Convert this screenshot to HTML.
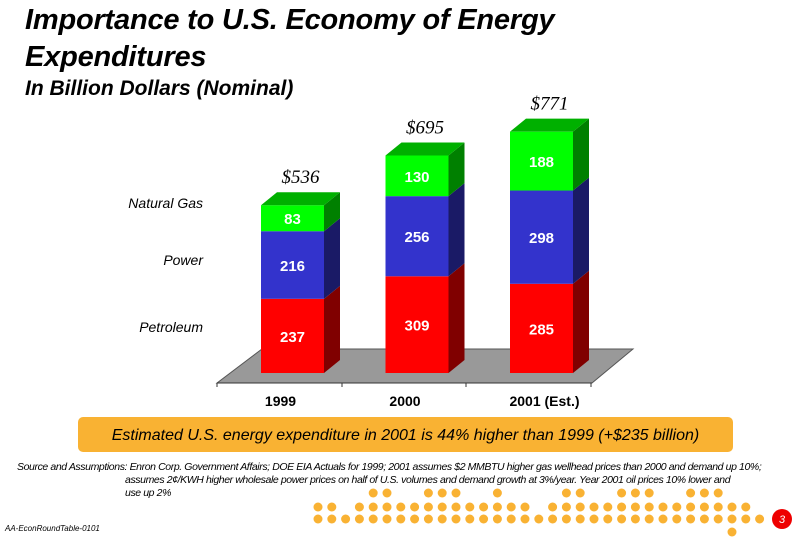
<!DOCTYPE html>
<html><head><meta charset="utf-8"><style>
body{margin:0;background:#fff;}
#root{position:relative;width:810px;height:540px;overflow:hidden;font-family:"Liberation Sans",sans-serif;}
.t{position:absolute;white-space:nowrap;}
</style></head><body>
<div id="root">
<div class="t" style="left:25px;top:2px;font-size:29px;font-weight:bold;font-style:italic;line-height:37px;letter-spacing:-0.2px;">Importance to U.S. Economy of Energy<br>Expenditures</div>
<div class="t" style="left:25px;top:77px;font-size:21px;font-weight:bold;font-style:italic;">In Billion Dollars (Nominal)</div>
<svg id="chart" width="810" height="540" style="position:absolute;left:0;top:0" xmlns="http://www.w3.org/2000/svg"></svg>
<div class="t" style="left:78px;top:417px;width:655px;height:35px;background:#f9b233;border-radius:5px;font-size:16px;font-style:italic;line-height:37px;text-align:center;">Estimated U.S. energy expenditure in 2001 is 44% higher than 1999 (+$235 billion)</div>
<div class="t" style="left:17px;top:461px;font-size:10.5px;font-style:italic;line-height:13px;letter-spacing:-0.4px;">Source and Assumptions: Enron Corp. Government Affairs; DOE EIA Actuals for 1999; 2001 assumes $2 MMBTU higher gas wellhead prices than 2000 and demand up 10%;<br><span style="padding-left:108px">assumes 2¢/KWH higher wholesale power prices on half of U.S. volumes and demand growth at 3%/year. Year 2001 oil prices 10% lower and</span><br><span style="padding-left:108px">use up 2%</span></div>
<div class="t" style="left:5px;top:524px;font-size:8px;font-style:italic;">AA-EconRoundTable-0101</div>
</div>
<script>
const categories=["1999","2000","2001 (Est.)"];
const petroleum=[237,309,285];
const power=[216,256,298];
const gas=[83,130,188];
const totalLabels=["$536","$695","$771"];
const legendNames=["Natural Gas","Power","Petroleum"];
const NS="http://www.w3.org/2000/svg";
const svg=document.getElementById('chart');
function mk(tag,at,parent){const e=document.createElementNS(NS,tag);for(const k in at)e.setAttribute(k,at[k]);(parent||svg).appendChild(e);return e;}
const base=373,scale=0.313,bw=63,dx=16,dy=13;
const x0=261,step=124.5;
function xPos(i){return x0+i*step;}
function yPos(v){return base-v*scale;}
const floor=mk('polygon',{points:"217,383 262,349 633,349 592,383",fill:"#999",stroke:"#555","stroke-width":1});

const ax=mk('line',{x1:217,y1:383,x2:592,y2:383,stroke:"#333"});

[217,342,466,591].forEach(x=>{const t=mk('line',{x1:x,y1:383,x2:x,y2:387,stroke:"#333"});});
const series=[{v:petroleum,f:"#ff0000",s:"#800000",n:"petroleum"},{v:power,f:"#3333cc",s:"#1a1a66",n:"power"},{v:gas,f:"#00ff00",s:"#008000",n:"gas"}];
categories.forEach((c,i)=>{
  const x=xPos(i);let cum=0;
  series.forEach((s,k)=>{
    const y1=yPos(cum),y2=yPos(cum+s.v[i]);
    const g=mk('g',{});
    
    
    mk('rect',{x:x,y:y2,width:bw,height:y1-y2,fill:s.f},g);
    mk('polygon',{points:`${x+bw},${y1} ${x+bw+dx},${y1-dy} ${x+bw+dx},${y2-dy} ${x+bw},${y2}`,fill:s.s},g);
    if(k===2)mk('polygon',{points:`${x},${y2} ${x+dx},${y2-dy} ${x+bw+dx},${y2-dy} ${x+bw},${y2}`,fill:"#00b000"},g);
    const tx=mk('text',{x:x+bw/2,y:(y1+y2)/2+6,"text-anchor":"middle","font-size":15,"font-weight":"bold",fill:"#fff","font-family":"Liberation Sans"},g);
    tx.textContent=s.v[i];
    cum+=s.v[i];
  });
  const tl=mk('text',{x:x+bw/2+8,y:yPos(cum)-dy-9,"text-anchor":"middle","font-size":19,"font-style":"italic","font-family":"Liberation Serif"});
  
  tl.textContent=totalLabels[i];
  const cl=mk('text',{x:x+bw/2-12+(i===2?15:0),y:406,"text-anchor":"middle","font-size":14,"font-weight":"bold","font-family":"Liberation Sans"});
  
  cl.textContent=c;
});
const ly=[208,265,332];
legendNames.forEach((n,i)=>{const t=mk('text',{x:203,y:ly[i],"text-anchor":"end","font-size":14,"font-style":"italic","font-family":"Liberation Sans"});
t.textContent=n;});
const rows=[[493,[4,5,8,9,10,13,18,19,22,23,24,27,28,29]],[507,[0,1,3,4,5,6,7,8,9,10,11,12,13,14,15,17,18,19,20,21,22,23,24,25,26,27,28,29,30,31]],[519,Array.from({length:33},(_,i)=>i)],[532,[30]]];
const dg=mk('g',{});
rows.forEach(r=>r[1].forEach(i=>mk('circle',{cx:318+i*13.8,cy:r[0],r:4.5,fill:"#f9b233"},dg)));
const pc=mk('circle',{cx:782,cy:519,r:10,fill:"#e00"});
const pt=mk('text',{x:782,y:523,"text-anchor":"middle","font-size":11,"font-style":"italic",fill:"#fff","font-family":"Liberation Sans"});pt.textContent="3";
</script>
</body></html>
